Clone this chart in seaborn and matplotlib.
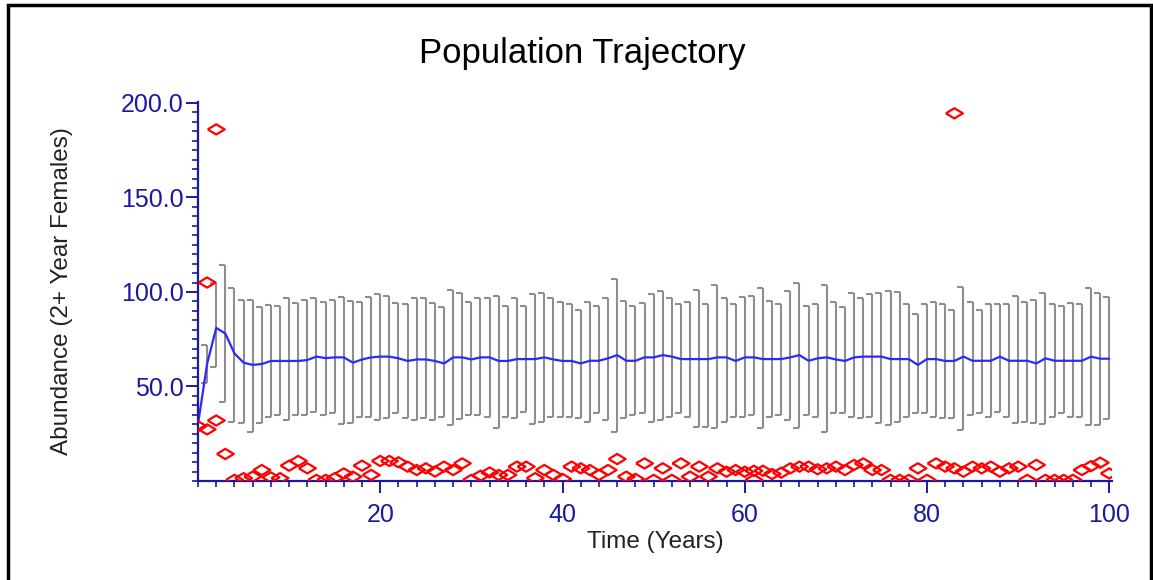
import numpy as np
import matplotlib
matplotlib.use("Agg")
import matplotlib.pyplot as plt
import seaborn as sns
from matplotlib.ticker import FixedLocator, MultipleLocator
from matplotlib.patches import Rectangle

# Simulation summary, years 0-100
years = np.arange(0, 101)
mean_n = [30, 62, 81, 78, 67.5, 62.6, 61.4, 61.9, 63.5, 63.5,
          63.5, 63.5, 64, 65.8, 65, 65.4, 65.4, 62.6, 64.3, 65.4,
          65.8, 65.8, 64.9, 63.5, 64.3, 64.3, 63.5, 62.2, 65.4, 65.4,
          64.3, 65.4, 65.4, 63.5, 63.5, 64.5, 64.5, 64.5, 65.4, 64.3,
          63.5, 63.5, 62.2, 63.6, 63.6, 64.9, 66.6, 63.6, 63.6, 65.4,
          65.4, 66.6, 65.8, 64.5, 64.5, 64.5, 64.5, 65.4, 65.4, 63.5,
          65.4, 65.4, 64.5, 64.5, 64.5, 65.4, 66.6, 63.6, 64.9, 65.4,
          64.3, 63.5, 65.4, 65.8, 65.8, 65.8, 64.5, 64.5, 64.5, 61.4,
          64.5, 64.5, 63.5, 63.5, 65.8, 63.6, 63.6, 63.6, 65.8, 63.6,
          63.6, 63.6, 62.2, 64.9, 63.6, 63.6, 63.6, 63.6, 65.8, 64.7,
          64.7]

# +/- 1 SD bars, years 1-100
bar_years = np.arange(1, 101)
bar_top = [72, 104.6, 114.3, 102, 95.8, 95.8, 91.9, 93.1, 92.6, 96.7,
           94, 95.8, 96.7, 94.9, 95.8, 97.5, 95.4, 94.9, 97.5, 98.9,
           97.9, 94, 93.6, 96.6, 96.6, 94, 91.9, 101, 99.3, 94.9,
           96.6, 96.6, 97.9, 92.6, 96.6, 92.6, 98.9, 99.6, 96.6, 94.5,
           93.6, 90.5, 94.9, 92.6, 96.6, 106.7, 95.4, 92.6, 94.3, 98.9,
           100.7, 96.6, 93.6, 94.9, 101, 93.6, 103.7, 96.6, 93.6, 97.5,
           97.9, 101.9, 95.4, 93.6, 100.7, 104.9, 92.6, 93.6, 103.7, 94.9,
           91.9, 99.6, 96.6, 98.9, 99.6, 100.7, 100.2, 93.6, 88.3, 93.6,
           94.9, 93.6, 90.5, 102.8, 94.9, 90.5, 93.6, 93.6, 93.6, 97.9,
           94.9, 95.8, 99.6, 93.6, 92.6, 94.3, 93.6, 101.9, 99.6, 97.5]
bar_bottom = [51.7, 60.5, 42, 31.4, 30.5, 26.1, 30.5, 34, 34.9, 32.3,
              34.9, 34.9, 36.7, 34.9, 35.8, 30.1, 30.5, 34, 34, 32.3,
              33.1, 35.8, 33.1, 32.3, 33.1, 32.3, 34, 29.6, 32.6, 34.9,
              34.9, 34, 27.8, 34, 33.1, 36.7, 30.1, 31.4, 34, 34,
              34, 33.1, 31.4, 35.8, 32.3, 26.1, 33.1, 34.9, 35.8, 31.4,
              32.3, 34, 35.8, 34, 28.7, 28.7, 27.8, 31.4, 34, 34,
              34.9, 27.8, 34, 34.9, 32.3, 27.8, 34.9, 34, 26.1, 35.8,
              35.8, 34, 33.1, 34, 30.5, 29.6, 31.4, 34, 35.8, 35.8,
              34, 33.1, 33.1, 27, 34.9, 35.8, 34, 36.7, 34, 30.5,
              31.4, 30.5, 30.1, 34, 35.8, 34, 34, 29.6, 29.6, 32.6]

# single-run points (red diamonds)
pt_years = [0, 1, 1, 2, 2, 3, 4, 5, 6, 7, 8, 9,
            10, 11, 12, 13, 14, 15, 16, 17, 18, 19,
            20, 21, 22, 23, 24, 25, 26, 27, 28, 29,
            30, 31, 32, 33, 34, 35, 36, 37, 38, 39,
            40, 41, 42, 43, 44, 45, 46, 47, 48, 49,
            50, 51, 52, 53, 54, 55, 56, 57, 58, 59,
            60, 61, 61, 62, 63, 64, 65, 66, 67, 68, 69,
            70, 71, 72, 73, 74, 75, 76, 77, 78, 79,
            80, 81, 82, 83, 83, 84, 85, 86, 87, 88, 89,
            90, 91, 92, 93, 94, 95, 96, 97, 98, 99, 100]
pt_values = [29, 105, 27.3, 186, 32, 14.3, 0.6, 1.5, 2.3, 5.8, 1.9, 1.5,
             8.1, 10.6, 6.7, 0.6, 0.6, 1.5, 4, 2.3, 8.1, 3.2,
             10.6, 10.6, 9.9, 7.6, 5.8, 6.7, 5, 7.6, 5.8, 9.3,
             0.6, 2.8, 4.5, 3.2, 3.2, 7.6, 7.6, 1.5, 5.8, 3.2,
             1.1, 7.6, 6.7, 5.8, 3.2, 5.8, 11.6, 2.3, 1.1, 9.3,
             0.6, 6.7, 0.6, 9.3, 2.3, 7.6, 2.3, 6.7, 4.9, 5.8,
             4.9, 0.6, 5.4, 5.4, 3.7, 4.4, 6.7, 7.6, 7.6, 6.2, 6.7,
             7.6, 5.8, 8.5, 9.3, 5.8, 5.8, 0.6, 0.6, 0.6, 6.7,
             0.6, 9.3, 7.6, 6.7, 194.5, 4.9, 7.6, 6.7, 7.6, 4.9, 6.7,
             7.6, 0.6, 8.5, 0.6, 0.6, 0.6, 0.6, 5.8, 7.9, 9.7, 4]

navy = "#1a1aa0"

sns.set_style("white")
plt.rcParams["font.family"] = ["Liberation Sans", "DejaVu Sans"]

fig = plt.figure(figsize=(11.53, 5.80), dpi=100)
ax = fig.add_axes([198 / 1153, 99 / 580, 914 / 1153, 379 / 580])

ax.vlines(bar_years, bar_bottom, bar_top, color="#8e8e8e", lw=1.5)
ax.plot(bar_years, bar_top, ls="none", marker=0, ms=4, mew=1.5, color="#8e8e8e")
ax.plot(bar_years, bar_bottom, ls="none", marker=0, ms=4, mew=1.5, color="#8e8e8e")

sns.lineplot(x=years, y=mean_n, color="#2a2aff", lw=1.6, ax=ax)

diamond = [(-1, 0), (0, 0.6), (1, 0), (0, -0.6), (-1, 0)]
ax.scatter(pt_years, pt_values, marker=diamond, s=150,
           facecolors="none", edgecolors="#ff0000", linewidths=1.6, zorder=3)

ax.set_xlim(0, 100.3)
ax.set_ylim(0, 200.5)
ax.xaxis.set_major_locator(FixedLocator([20, 40, 60, 80, 100]))
ax.xaxis.set_minor_locator(MultipleLocator(2))
ax.yaxis.set_major_locator(FixedLocator([50, 100, 150, 200]))
ax.yaxis.set_minor_locator(MultipleLocator(5))
ax.yaxis.set_major_formatter(lambda v, p: f"{v:.1f}")

for s in ["top", "right"]:
    ax.spines[s].set_visible(False)
for s in ["left", "bottom"]:
    ax.spines[s].set_color(navy)
    ax.spines[s].set_linewidth(1.6)

ax.tick_params(which="major", length=8.5, width=1.4, color=navy, labelcolor=navy, labelsize=18, pad=2)
ax.tick_params(which="minor", length=4.5, width=1.2, color=navy)
ax.tick_params(axis="x", which="both", bottom=True, pad=7)
ax.tick_params(axis="y", which="both", left=True)

ax.set_xlabel("Time (Years)", fontsize=17.5, color="#222222", labelpad=3)
ax.set_ylabel("Abundance (2+ Year Females)", fontsize=17.5, color="#222222", labelpad=34)
fig.text(582 / 1153, 1 - 53 / 580, "Population Trajectory", fontsize=25,
         ha="center", va="center", color="black")

fig.patches.append(Rectangle((8 / 1153, -0.05), 1143 / 1153, 1.0 - 5 / 580 + 0.05,
                             transform=fig.transFigure, fill=False, ec="black", lw=2.5))

fig.savefig("out.png", dpi=100)
